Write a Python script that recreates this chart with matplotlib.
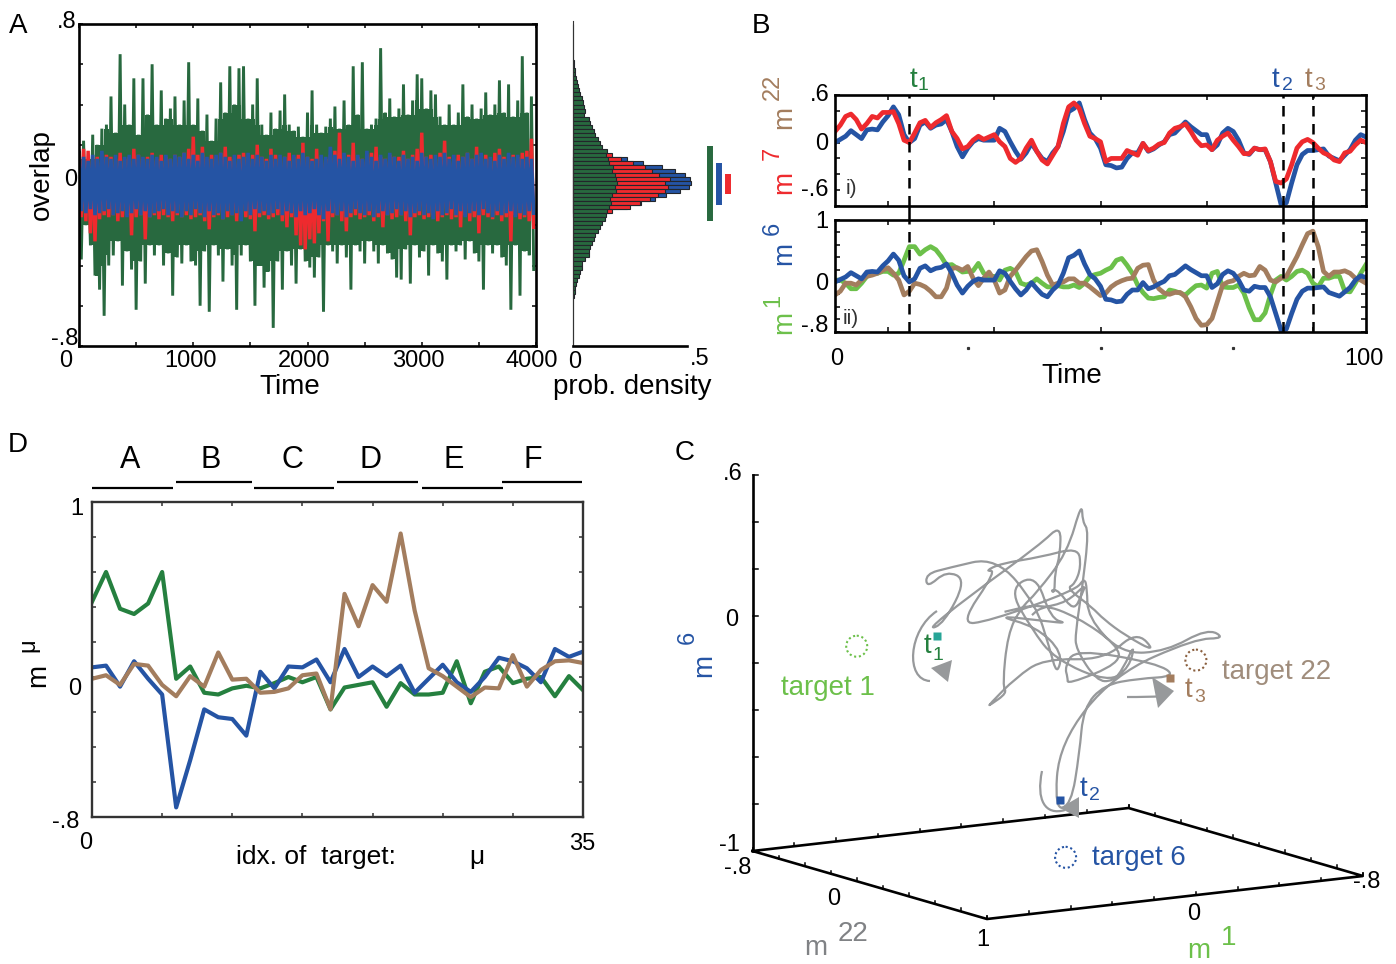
import numpy as np
import matplotlib
matplotlib.use('Agg')
import matplotlib.pyplot as plt
from matplotlib import font_manager as fm
from matplotlib.patches import Circle, Polygon, PathPatch
from matplotlib.path import Path

W, H = 1396, 964

# ---------- panel A data ----------
green_up = [.17,.22,.13,.25,.2,.28,.3,.44,.26,.65,.4,.3,.53,.25,.53,.35,.6,.3,.47,.33,
            .38,.44,.3,.42,.61,.3,.43,.27,.35,.22,.33,.51,.36,.59,.4,.58,.59,.33,.4,.53,
            .3,.25,.36,.28,.37,.45,.3,.27,.29,.24,.36,.47,.3,.26,.29,.33,.39,.28,.42,.3,
            .59,.35,.61,.28,.3,.33,.68,.36,.43,.34,.38,.5,.35,.42,.55,.53,.38,.47,.45,.34,
            .3,.4,.3,.36,.5,.34,.4,.33,.38,.46,.35,.4,.52,.36,.5,.34,.42,.64,.36,.44]
green_down = [-.37,-.2,-.3,-.45,-.52,-.65,-.4,-.35,-.28,-.5,-.33,-.42,-.62,-.38,-.49,-.3,-.35,-.3,-.4,-.34,
              -.55,-.36,-.39,-.3,-.38,-.4,-.6,-.33,-.63,-.3,-.35,-.48,-.32,-.4,-.62,-.35,-.3,-.38,-.6,-.4,
              -.51,-.43,-.71,-.38,-.52,-.33,-.4,-.49,-.32,-.38,-.41,-.46,-.36,-.63,-.3,-.33,-.39,-.3,-.36,-.52,
              -.3,-.33,-.39,-.28,-.33,-.39,-.3,-.34,-.37,-.46,-.47,-.32,-.49,-.3,-.36,-.33,-.45,-.3,-.34,-.38,
              -.47,-.3,-.33,-.3,-.37,-.28,-.34,-.38,-.52,-.3,-.34,-.3,-.36,-.4,-.62,-.3,-.55,-.33,-.35,-.42]
red_up = [.15,.18,.17,.13,.14,.13,.15,.14,.13,.16,.13,.14,.18,.15,.13,.14,.16,.13,.15,.14,
          .13,.15,.14,.16,.18,.24,.15,.19,.13,.15,.14,.16,.19,.14,.13,.15,.16,.14,.15,.2,
          .14,.13,.18,.15,.13,.14,.16,.14,.15,.21,.14,.13,.18,.14,.13,.15,.17,.26,.14,.15,
          .21,.14,.13,.15,.16,.19,.14,.13,.15,.14,.14,.17,.13,.15,.18,.26,.14,.15,.13,.16,
          .22,.14,.13,.15,.14,.16,.13,.19,.14,.15,.13,.16,.18,.14,.13,.15,.14,.16,.17,.23]
red_down = [-.16,-.18,-.24,-.28,-.17,-.15,-.16,-.15,-.18,-.16,-.15,-.25,-.16,-.15,-.27,-.16,-.15,-.17,-.15,-.16,
            -.18,-.15,-.16,-.15,-.17,-.16,-.15,-.18,-.22,-.16,-.15,-.17,-.16,-.15,-.18,-.15,-.16,-.17,-.23,-.16,
            -.15,-.17,-.16,-.15,-.18,-.21,-.16,-.25,-.3,-.32,-.27,-.29,-.24,-.18,-.28,-.16,-.15,-.18,-.23,-.16,
            -.15,-.17,-.16,-.15,-.18,-.16,-.21,-.15,-.17,-.16,-.15,-.18,-.25,-.16,-.15,-.17,-.16,-.15,-.18,-.16,
            -.15,-.17,-.16,-.21,-.15,-.18,-.16,-.24,-.15,-.16,-.17,-.15,-.18,-.16,-.28,-.15,-.17,-.16,-.18,-.21]
blue_up = [.13,.14,.12,.15,.13,.17,.14,.13,.15,.12,.14,.15,.13,.15,.14,.13,.15,.14,.12,.15,
           .13,.15,.14,.16,.13,.15,.12,.16,.14,.13,.15,.16,.14,.12,.15,.13,.14,.16,.13,.15,
           .14,.12,.15,.13,.15,.14,.12,.15,.13,.16,.14,.12,.13,.15,.14,.19,.15,.13,.16,.14,
           .12,.15,.13,.17,.14,.12,.15,.13,.16,.14,.12,.15,.13,.14,.12,.16,.14,.13,.15,.14,
           .16,.13,.15,.12,.14,.16,.13,.15,.16,.13,.14,.12,.15,.13,.16,.14,.15,.13,.14,.13]
blue_down = [-.13,-.14,-.12,-.15,-.14,-.13,-.12,-.15,-.14,-.13,-.16,-.14,-.12,-.15,-.13,-.16,-.14,-.13,-.12,-.15,
             -.13,-.14,-.16,-.13,-.15,-.12,-.14,-.16,-.13,-.15,-.14,-.17,-.13,-.15,-.14,-.18,-.13,-.15,-.12,-.14,
             -.13,-.15,-.14,-.12,-.15,-.13,-.14,-.16,-.13,-.15,-.14,-.12,-.15,-.17,-.13,-.14,-.15,-.13,-.16,-.14,
             -.12,-.14,-.15,-.13,-.16,-.14,-.13,-.15,-.14,-.12,-.15,-.13,-.16,-.14,-.13,-.15,-.14,-.17,-.13,-.15,
             -.14,-.12,-.15,-.13,-.16,-.14,-.13,-.15,-.12,-.14,-.16,-.13,-.15,-.14,-.13,-.16,-.14,-.15,-.13,-.14]

hist_green = [.001,.001,.001,.001,.001,.002,.002,.003,.004,.006,.008,.011,.013,.017,.02,.025,.029,.032,.04,.047,
              .05,.056,.052,.07,.077,.086,.094,.1,.112,.12,.128,.15,.145,.155,.16,.178,.172,.185,.19,.194,
              .185,.19,.172,.165,.168,.16,.15,.145,.14,.13,.12,.11,.1,.096,.087,.077,.07,.07,.055,.04,
              .042,.034,.03,.02,.016,.012,.009,.006,.004,.003,.002,.001,.001,.001,.001,.001,.001,.001,.001,.001]
hist_red = [.1,.172,.21,.266,.317,.346,.378,.426,.405,.415,.405,.375,.34,.295,.25,.172,.12]
hist_blue = [.24,.31,.39,.448,.49,.514,.518,.507,.47,.41,.36,.30,.24,.16]

# ---------- panel B series, time 0..100 ----------
m6 = [0,.04,.08,.15,.10,.05,.16,.17,.16,.26,
      .34,.45,.35,.10,0,.05,.22,.26,.18,.22,
      .235,.29,.14,-.05,-.18,-.07,.01,.05,.03,.03,
      .03,.18,.14,.01,-.11,-.21,-.13,-.01,-.11,-.2,
      -.24,-.13,-.05,.14,.39,.43,.5,.29,.12,.05,
      -.07,-.28,-.29,-.32,-.31,-.2,-.13,-.13,-.01,-.11,
      -.08,-.03,.01,.1,.12,.19,.26,.2,.15,.1,
      .1,-.09,-.03,.12,.18,.14,.03,-.13,-.15,-.07,
      -.09,-.09,-.24,-.51,-.78,-.76,-.51,-.28,-.15,-.1,
      -.1,-.09,-.08,-.17,-.2,-.23,-.16,-.09,.03,.1,.07]
m7 = [.14,.22,.33,.36,.29,.17,.24,.33,.31,.38,
      .38,.39,.24,.03,0,.12,.25,.28,.19,.25,
      .29,.34,.14,.05,-.08,-.05,.03,.08,.04,.07,
      .1,.01,-.05,-.2,-.25,-.2,-.07,.03,-.11,-.22,
      -.27,-.16,-.05,.24,.45,.5,.43,.24,.08,.05,
      .01,-.24,-.2,-.2,-.2,-.1,-.13,-.16,-.01,-.1,
      -.07,-.02,0,.12,.18,.2,.235,.14,.03,-.04,
      -.03,-.09,.03,.08,.12,.03,-.05,-.14,-.14,-.07,
      -.09,-.08,-.24,-.49,-.51,-.46,-.28,-.07,.01,.04,
      0,-.07,-.13,-.16,-.22,-.24,-.13,-.11,-.03,.03,0]
m1 = [.03,.03,-.02,-.11,-.11,-.02,.09,.14,.14,.17,
      .17,.11,.14,.35,.57,.57,.45,.52,.57,.52,
      .41,.27,.28,.22,.16,.17,.18,.30,.14,.09,
      .09,.03,.19,.22,.17,-.02,-.05,-.02,.05,-.02,
      -.08,-.08,-.06,-.08,-.08,-.05,-.09,-.02,.09,.12,
      .14,.19,.23,.35,.38,.27,.14,-.05,-.17,-.26,
      -.27,-.25,-.24,-.13,-.15,-.18,-.21,-.13,-.06,-.05,
      -.1,.14,.17,-.08,-.09,-.09,-.05,-.18,-.42,-.61,
      -.61,-.5,-.21,.03,.09,.03,.09,.17,.19,.14,
      -.02,-.08,.06,.06,.09,.09,-.15,-.16,-.02,.14,.28]
m22 = [-.21,-.15,-.02,-.02,-.05,.03,.09,.11,.14,.19,
       .23,.14,.03,-.21,-.15,-.02,-.04,-.08,-.15,-.24,
       -.24,-.1,.22,.23,.19,.25,.06,-.06,.06,.16,
       .03,-.18,-.13,.09,.19,.3,.41,.5,.52,.33,
       .11,-.05,-.02,0,.05,.05,-.02,-.02,-.08,-.15,
       -.22,-.18,-.08,-.02,.02,.05,.06,.22,.27,.28,
       .03,-.11,-.18,-.2,-.17,-.17,-.24,-.4,-.59,-.7,
       -.69,-.59,-.32,-.05,0,.02,.09,.14,.1,.11,
       .25,.19,.03,0,.06,.09,.25,.41,.6,.78,
       .82,.57,.17,.09,.16,.16,.18,.14,.06,.03,-.02]
event_times = [14, 84.4, 90]
event_m1 = [.55, .05, -.02]
event_m22 = [-.105, .036, .77]
event_m6 = [-.02, -.745, -.115]

# ---------- panel D data ----------
d_green = [.43,.6,.39,.36,.42,.6,-.01,.06,-.09,-.1,-.065,-.05,-.065,-.035,0,-.03,0,-.185,
           -.06,-.045,-.03,-.17,-.035,-.1,-.1,-.09,.09,-.15,.03,.06,-.035,-.01,0,-.11,.005,-.075]
d_blue = [.055,.065,-.055,.09,-.01,-.1,-.745,-.475,-.185,-.23,-.24,-.335,.03,-.065,.06,.055,.1,-.03,
          .16,0,.06,.005,.065,-.09,-.01,.07,-.03,-.085,0,.11,.09,.05,-.03,.16,.115,.145]
d_brown = [-.01,.01,-.045,.075,.065,-.045,-.11,.005,-.055,.14,-.015,-.01,-.09,-.085,-.065,.01,.02,-.185,
           .475,.29,.525,.43,.82,.38,.05,.005,-.055,-.115,-.06,-.065,.125,-.055,.04,.09,.095,.08]
d_groups = ['A', 'B', 'C', 'D', 'E', 'F']

# ---------- colours ----------
C_GREEN_D = '#28693f'
C_GREEN_M = '#25803f'
C_GREEN_L = '#6cc04a'
C_BLUE = '#2554a4'
C_RED = '#ee2a2e'
C_BROWN = '#a37d5e'
C_GRAY = '#97999b'

def pick(name, fb):
    try:
        fm.findfont(fm.FontProperties(family=name), fallback_to_default=False)
        return name
    except Exception:
        return fb
NARROW = pick('Liberation Sans Narrow', 'Liberation Sans')
SANS = 'Liberation Sans'

fig = plt.figure(figsize=(W / 100, H / 100), dpi=100, facecolor='white')

def axpx(x0, y0, x1, y1):
    return fig.add_axes([x0 / W, 1 - y1 / H, (x1 - x0) / W, (y1 - y0) / H])

pix = fig.add_axes([0, 0, 1, 1], zorder=20)
pix.set_xlim(0, W); pix.set_ylim(H, 0); pix.axis('off'); pix.patch.set_alpha(0)

def T(x, y, s, size=17, color='black', rot=0, fam=None):
    if fam is None:
        fam = SANS if rot else NARROW
    pix.text(x, y + (0 if rot else 2), s, fontsize=size, color=color, rotation=rot,
             ha='center', va='center', family=fam)

def frame(ax, lw=1.8, color='black', tl=3):
    for s in ax.spines.values():
        s.set_linewidth(lw); s.set_color(color)
    ax.tick_params(which='both', direction='in', top=True, right=True, length=tl, width=1.1,
                   color=color, labelbottom=False, labelleft=False)

def zigzag(up, down, step):
    vals = np.ravel(np.column_stack([up, down]))
    return np.arange(len(vals)) * step, vals

def neighbour_min(a):
    a = np.asarray(a)
    return np.minimum.reduce([a, np.roll(a, 1), np.roll(a, -1)])

# ---------- Panel A ----------
axA = axpx(79, 24, 536, 346)
tg = np.arange(len(green_up)) * 40
axA.fill_between(tg, neighbour_min(green_up), -neighbour_min(-np.asarray(green_down)),
                 step='mid', color=C_GREEN_D, lw=0)
for up, down, col, lw in [(green_up, green_down, C_GREEN_D, 2.1),
                          (red_up, red_down, C_RED, 2.5),
                          (blue_up, blue_down, C_BLUE, 2.6)]:
    t, v = zigzag(up, down, 20)
    axA.plot(t, v, color=col, lw=lw, solid_joinstyle='bevel')
axA.set_xlim(0, 4000); axA.set_ylim(-.8, .8)
axA.set_xticks(np.arange(0, 4001, 500)); axA.set_yticks(np.arange(-.8, .81, .2))
frame(axA, 1.9)

axH = axpx(572.5, 21, 687, 346)
ctr = .79 - .02 * np.arange(len(hist_green))
for vals, c, col in [(hist_blue, .13 - .02 * np.arange(len(hist_blue)), C_BLUE),
                     (hist_red, .17 - .02 * np.arange(len(hist_red)), C_RED),
                     (hist_green, ctr, C_GREEN_D)]:
    axH.barh(c, vals, height=.02, color=col, edgecolor='#23262b', linewidth=.8, clip_on=False)
axH.set_xlim(0, .5); axH.set_ylim(-.8, .815)
for s in ['top', 'right']:
    axH.spines[s].set_visible(False)
axH.spines['left'].set_linewidth(.8); axH.spines['left'].set_color('#333333')
axH.spines['bottom'].set_linewidth(1.9)
axH.set_xticks([]); axH.set_yticks([])

for xb, hpx, col in [(710, 37.5, C_GREEN_D), (719, 21, C_BLUE), (728, 10, C_RED)]:
    pix.plot([xb, xb], [183.5 - hpx, 183.5 + hpx], color=col, lw=4.3, solid_capstyle='butt')

T(18, 24, 'A', 20)
T(67, 20, '.8'); T(71, 178, '0'); T(65, 337, '-.8')
T(66, 359, '0')
for x, s in [(191, '1000'), (304, '2000'), (418, '3000'), (532, '4000')]:
    T(x, 359, s)
T(290, 385, 'Time', 20)
T(575, 360, '0'); T(700, 357, '.5')
T(632, 385, 'prob. density', 20)
T(42, 175, 'overlap', 20, rot=90)

# ---------- Panel B ----------
tt = np.arange(len(m6))
axB1 = axpx(835, 95, 1366, 206)
axB1.plot(tt, m6, color=C_BLUE, lw=3.4)
axB1.plot(tt, m7, color=C_RED, lw=3.4)
axB1.set_xlim(0, 100); axB1.set_ylim(-.8, .6)
axB1.set_yticks(np.arange(-.8, .61, .2))
axB2 = axpx(835, 220, 1366, 331.5)
axB2.plot(tt, m1, color=C_GREEN_L, lw=3.4)
axB2.plot(tt, m22, color=C_BROWN, lw=3.4)
axB2.plot(tt, m6, color=C_BLUE, lw=3.4)
axB2.set_xlim(0, 100); axB2.set_ylim(-.8, 1)
axB2.set_yticks(np.arange(-.8, 1.01, .2))
for a in (axB1, axB2):
    a.set_xticks([10, 30, 50, 70, 90])
    frame(a, 1.9, tl=3.5)
    for e in event_times:
        a.axvline(e, color='black', lw=1.8, dashes=(4.2, 3))
axG = axpx(835, 206, 1366, 220)
axG.set_xlim(0, 100); axG.axis('off'); axG.set_ylim(0, 1)
for e in event_times:
    axG.axvline(e, color='black', lw=1.8)
axB2.plot([25, 50, 75], [-1.06] * 3, ls='', marker='s', ms=1.3, color='#333333', clip_on=False)

T(761, 24, 'B', 20)
T(820, 93, '.6'); T(822, 142, '0'); T(815, 188, '-.6')
T(822, 220, '1'); T(822, 282, '0'); T(815, 324, '-.8')
T(851, 186, 'i)', 15, '#333333'); T(851, 316, 'ii)', 15, '#333333')
T(837, 357, '0'); T(1364, 357, '100'); T(1072, 374, 'Time', 20)
for tx, sx, lab, col in [(913, 923, '1', C_GREEN_M), (1275, 1287, '2', C_BLUE), (1308, 1320, '3', C_BROWN)]:
    T(tx, 78, 't', 20, col); T(sx, 84, lab, 14, col)
for y, x, s, col, fs in [(182, 784, 'm', C_RED, 20), (153, 773, '7', C_RED, 17),
                         (117, 784, 'm', C_BROWN, 20), (87, 773, '22', C_BROWN, 17),
                         (322, 784, 'm', C_GREEN_L, 20), (300, 773, '1', C_GREEN_L, 17),
                         (253, 784, 'm', C_BLUE, 20), (228, 773, '6', C_BLUE, 17)]:
    T(x, y, s, fs, col, rot=90)

# ---------- Panel D ----------
axD = axpx(92, 502, 583, 817)
idx = np.arange(len(d_green))
axD.plot(idx, d_green, color=C_GREEN_M, lw=3)
axD.plot(idx, d_blue, color=C_BLUE, lw=3)
axD.plot(idx, d_brown, color=C_BROWN, lw=3)
axD.set_xlim(0, 35); axD.set_ylim(-.8, 1)
axD.set_xticks(np.arange(0, 36, 5)); axD.set_yticks(np.arange(-.8, 1.01, .2))
frame(axD, 1.7, '#333333', tl=3)

T(18, 443, 'D', 20)
for s, x, x0, x1, yl in zip(d_groups, [130, 211, 292, 371, 454, 533],
                            [92, 176, 254, 337, 422, 502], [173, 252, 334, 418, 503, 582],
                            [488, 482, 488, 482, 488, 482]):
    T(x, 458, s, 22, fam=SANS)
    pix.plot([x0, x1], [yl, yl], color='black', lw=1.6, solid_capstyle='butt')
T(77, 507, '1'); T(75, 687, '0'); T(66, 820, '-.8')
T(86, 841, '0'); T(582, 842, '35')
T(316, 855, 'idx. of  target:', 19); T(477, 855, 'μ', 19)
T(38, 675, 'm', 20, rot=90); T(28, 645, 'μ', 17, rot=90)

# ---------- Panel C: oblique projection of (m1, m22, m6) ----------
OX, OY = 752.5, 851.0
E22 = np.array([234.5, 68.0]) / 1.8
E1 = np.array([376.0, -43.0]) / 1.8
PZ = 235.0

def proj(a1, a22, a6):
    a1, a22, a6 = np.asarray(a1, float), np.asarray(a22, float), np.asarray(a6, float)
    x = OX + (a22 + .8) * E22[0] + (1 - a1) * E1[0]
    y = OY + (a22 + .8) * E22[1] + (1 - a1) * E1[1] - (a6 + 1) * PZ
    return x, y

x, y = proj(m1, m22, m6)
P = np.column_stack([x, y])
mid = (P[:-1] + P[1:]) / 2
verts = [P[0], mid[0]]
codes = [Path.MOVETO, Path.LINETO]
for i in range(1, len(P) - 1):
    verts += [P[i], mid[i]]
    codes += [Path.CURVE3, Path.CURVE3]
verts.append(P[-1]); codes.append(Path.LINETO)
pix.add_patch(PathPatch(Path(np.array(verts), codes), fc='none', ec=C_GRAY, lw=1.6, zorder=3,
                        joinstyle='round'))

corners = [(1, -.8), (1, 1), (-.8, 1), (-.8, -.8), (1, -.8)]
cx, cy = proj([c[0] for c in corners], [c[1] for c in corners], [-1] * 5)
pix.plot(cx, cy, color='black', lw=1.9, solid_joinstyle='miter', zorder=4)
zx, zy = proj([1, 1], [-.8, -.8], [-1, .6])
pix.plot(zx, zy, color='black', lw=1.9, zorder=4)
for v in np.arange(-1, .61, .2):
    px_, py_ = proj(1, -.8, v)
    pix.plot([px_, px_ + 5], [py_, py_], color='black', lw=1.1)
for v in np.arange(-.8, 1.01, .2):
    for fixed in (1, -.8):
        px_, py_ = proj(fixed, v, -1)
        pix.plot([px_, px_], [py_, py_ - 3], color='black', lw=1.1)
    for fixed in (-.8, 1):
        px_, py_ = proj(v, fixed, -1)
        pix.plot([px_, px_], [py_, py_ - 3], color='black', lw=1.1)

# targets
for a, col in [((1, 0, 0), C_GREEN_L), ((0, 1, 0), '#8a5f3e'), ((0, 0, -1), C_BLUE)]:
    tx, ty = proj(*a)
    pix.add_patch(Circle((float(tx), float(ty)), 10.5, fill=False, ec=col, lw=1.5, ls=(0, (1, 1.3))))

# event markers
for a1, a22, a6, col in zip(event_m1, event_m22, event_m6, ['#27a597', C_BLUE, C_BROWN]):
    px_, py_ = proj(a1, a22, a6)
    pix.plot([px_], [py_], marker='s', ms=6.2, color=col, mec='none', zorder=6)

# flow arrows
def arc(verts, tip):
    codes = [Path.MOVETO] + [Path.CURVE4] * (len(verts) - 1)
    pix.add_patch(PathPatch(Path(verts, codes), fc='none', ec=C_GRAY, lw=1.6, zorder=5))
    pix.add_patch(Polygon(tip, closed=True, fc=C_GRAY, ec='none', zorder=5))

arc([(937, 611), (908, 630), (905, 680), (930, 681)], [(952, 660), (931, 668), (948, 682)])
arc([(1127, 697), (1140, 697), (1150, 697), (1165, 696)], [(1174, 691), (1152, 677), (1158, 708)])
arc([(1042, 771), (1036, 800), (1045, 816), (1065, 810)], [(1079, 797), (1060, 808), (1079, 818)])

T(685, 451, 'C', 20)
T(733, 472, '.6'); T(732, 618, '0'); T(729, 843, '-1'); T(738, 866, '-.8')
T(834, 897, '0'); T(983, 938, '1'); T(1194, 912, '0'); T(1367, 880, '-.8')
T(828, 686, 'target 1', 20, C_GREEN_L)
T(1277, 670, 'target 22', 20, '#a08d7c')
T(1139, 856, 'target 6', 20, C_BLUE)
T(927, 644, 't', 20, C_GREEN_M); T(938, 654, '1', 14, C_GREEN_M)
T(1083, 787, 't', 20, C_BLUE); T(1094, 794, '2', 14, C_BLUE)
T(1188, 688, 't', 20, C_BROWN); T(1200, 695, '3', 14, C_BROWN)
T(704, 665, 'm', 20, C_BLUE, rot=90); T(688, 637, '6', 17, C_BLUE, rot=90)
T(816, 946, 'm', 20, '#808285'); T(853, 932, '22', 20, '#808285')
T(1199, 949, 'm', 20, C_GREEN_L); T(1229, 936, '1', 20, C_GREEN_L)

pix.set_xlim(0, W); pix.set_ylim(H, 0)
fig.savefig('out.png', dpi=100, facecolor='white')
